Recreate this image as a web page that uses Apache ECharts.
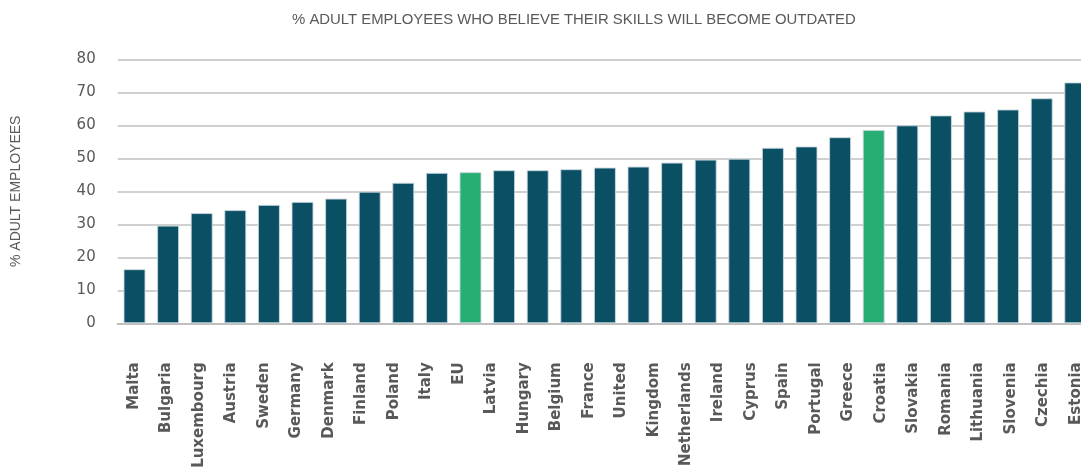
<!DOCTYPE html>
<html>
<head>
<meta charset="utf-8">
<script src="https://cdn.jsdelivr.net/npm/echarts@6/dist/echarts.min.js"></script>
<style>
html,body{margin:0;padding:0;background:#fff;}
#chart{width:1081px;height:470px;}
</style>
</head>
<body>
<div id="chart"></div>
<script>
const categories = ["Malta","Bulgaria","Luxembourg","Austria","Sweden","Germany","Denmark","Finland","Poland","Italy","EU","Latvia","Hungary","Belgium","France","United Kingdom","Netherlands","Ireland","Cyprus","Spain","Portugal","Greece","Croatia","Slovakia","Romania","Lithuania","Slovenia","Czechia","Estonia"];
const values = [16.4,29.6,33.4,34.3,35.9,36.8,37.8,39.9,42.6,45.6,45.8,46.4,46.4,46.7,47.2,47.5,48.7,49.6,49.9,53.2,53.6,56.4,58.6,60.0,63.0,64.2,64.8,68.2,73.0];
const highlighted = ["EU","Croatia"];
// x tick labels as printed (the "United Kingdom" label wraps onto two label slots)
const xTickLabels = ["Malta","Bulgaria","Luxembourg","Austria","Sweden","Germany","Denmark","Finland","Poland","Italy","EU","Latvia","Hungary","Belgium","France","United","Kingdom","Netherlands","Ireland","Cyprus","Spain","Portugal","Greece","Croatia","Slovakia","Romania","Lithuania","Slovenia","Czechia","Estonia"];
const yTicks = [0,10,20,30,40,50,60,70,80];
const titleText = "% ADULT EMPLOYEES WHO BELIEVE THEIR SKILLS WILL BECOME OUTDATED";
const yAxisTitle = "% ADULT EMPLOYEES";

const DARK = '#0a4f63';
const GREEN = '#27ae73';

const chart = echarts.init(document.getElementById('chart'), null, {renderer:'canvas'});
chart.setOption({
  animation:false,
  backgroundColor:'#fff',
  title:{
    text:titleText,
    left:287, top:7,
    textStyle:{fontFamily:'Liberation Sans, Arial, sans-serif', fontSize:14.9, fontWeight:'normal', color:'#595959'}
  },
  grid:{left:117.7, top:59.3, height:264, width:974.4, containLabel:false, outerBoundsMode:'none'},
  xAxis:[{
    type:'category',
    data:categories,
    axisTick:{show:false},
    axisLine:{show:true, lineStyle:{color:'#bfbfbf', width:2}},
    axisLabel:{show:false}
  },{
    type:'category',
    data:xTickLabels,
    position:'bottom',
    axisTick:{show:false},
    axisLine:{show:false},
    splitLine:{show:false},
    axisLabel:{
      interval:0, rotate:90, margin:39,
      fontFamily:'DejaVu Sans, sans-serif', fontWeight:'bold', fontSize:15,
      color:'#595959'
    }
  }],
  yAxis:{
    type:'value', min:yTicks[0], max:yTicks[yTicks.length-1], interval:10,
    name:yAxisTitle, nameLocation:'middle', nameGap:95,
    nameTextStyle:{fontFamily:'Liberation Sans, Arial, sans-serif', fontSize:14, color:'#595959'},
    axisLine:{show:false}, axisTick:{show:false},
    axisLabel:{margin:22, fontFamily:'DejaVu Sans, sans-serif', fontSize:15, color:'#595959'},
    splitLine:{lineStyle:{color:'#c0c0c0', width:1.5}}
  },
  series:[{
    type:'bar',
    xAxisIndex:0,
    barWidth:22,
    data:values.map((v,i)=>({
      value:v,
      itemStyle:{color: highlighted.includes(categories[i]) ? GREEN : DARK}
    })),
    itemStyle:{borderColor:'rgba(200,215,222,0.9)', borderWidth:1}
  }]
});
</script>
</body>
</html>
